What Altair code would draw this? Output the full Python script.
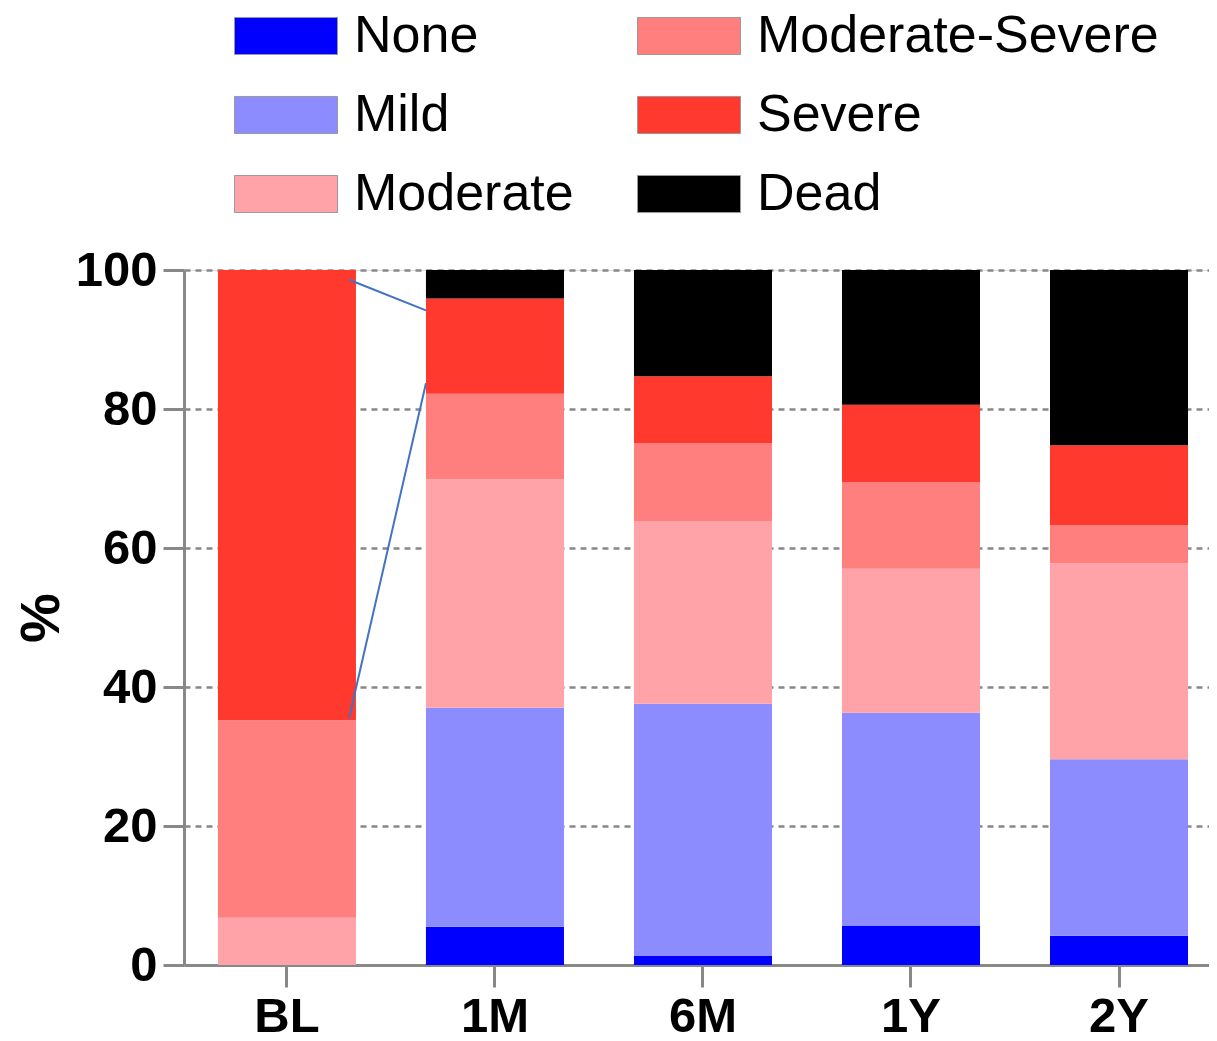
import altair as alt
import pandas as pd

timepoints = ["BL", "1M", "6M", "1Y", "2Y"]
categories = ["None", "Mild", "Moderate", "Moderate-Severe", "Severe", "Dead"]
colors = ["#0000FF", "#8C8CFF", "#FFA3A8", "#FF7F7F", "#FF392D", "#000000"]

none_v = [0.0, 5.5, 1.3, 5.6, 4.2]
mild_v = [0.0, 31.5, 36.3, 30.7, 25.4]
moderate_v = [6.8, 32.9, 26.3, 20.7, 28.2]
modsev_v = [28.4, 12.3, 11.2, 12.5, 5.5]
severe_v = [64.8, 13.7, 9.6, 11.1, 11.5]
dead_v = [0.0, 4.1, 15.3, 19.4, 25.2]

series = [none_v, mild_v, moderate_v, modsev_v, severe_v, dead_v]

rows = []
for ci, (cat, vals) in enumerate(zip(categories, series)):
    for t, v in zip(timepoints, vals):
        rows.append({"time": t, "category": cat, "value": v, "order": ci})
df = pd.DataFrame(rows)

# annotation connector lines (BL severe -> 1M severe)
line_from = ["BL", "BL"]
line_to = ["1M", "1M"]
line_y1 = [98.6, 35.5]
line_y2 = [94.2, 83.7]
lines = pd.DataFrame({"x1": line_from, "x2": line_to, "y1": line_y1, "y2": line_y2})

FONT = "Liberation Sans"

xscale = alt.Scale(domain=timepoints, paddingInner=0.3365, paddingOuter=0.132, align=0.618)
yscale = alt.Scale(domain=[0, 100], nice=False)

rect_path = "M-1,-0.36L1,-0.36L1,0.36L-1,0.36Z"

bars = alt.Chart(df).mark_bar(strokeWidth=0).encode(
    x=alt.X("time:N", scale=xscale, sort=timepoints,
            axis=alt.Axis(title=None, labelAngle=0, labelFont=FONT, labelFontSize=49,
                          labelFontWeight="bold", labelColor="black", labelPadding=5,
                          domainColor="#888888", domainWidth=3, tickColor="#888888",
                          tickWidth=3, tickSize=22, grid=False)),
    y=alt.Y("value:Q", stack="zero", scale=yscale,
            axis=alt.Axis(title="%", values=[0, 20, 40, 60, 80, 100], labelFont=FONT,
                          labelFontSize=49, labelFontWeight="bold", labelColor="black",
                          labelPadding=6, titleFont=FONT, titleFontSize=56,
                          titleFontWeight="bold", titleColor="black", titlePadding=5,
                          domainColor="#888888", domainWidth=3, tickColor="#888888",
                          tickWidth=3, tickSize=21, grid=True, gridColor="#888888",
                          gridWidth=2.5, gridDash=[6, 5])),
    color=alt.Color("category:N",
                    scale=alt.Scale(domain=categories, range=colors),
                    legend=alt.Legend(orient="none", legendX=50, legendY=-286, columns=2,
                                      title=None, symbolType=rect_path, symbolSize=10609,
                                      symbolStrokeColor="#999999", symbolStrokeWidth=1,
                                      labelFont=FONT, labelFontSize=52, labelColor="black",
                                      labelOffset=16, columnPadding=61, rowPadding=1,
                                      labelLimit=600)),
    order=alt.Order("order:Q", sort="ascending"),
)

conn = alt.Chart(lines).mark_rule(color="#4472C4", strokeWidth=2).encode(
    x=alt.X("x1:N", scale=xscale, bandPosition=0.95),
    x2=alt.X2("x2:N", bandPosition=0.0),
    y=alt.Y("y1:Q", scale=yscale),
    y2=alt.Y2("y2:Q"),
)

chart = alt.layer(bars, conn).properties(
    width=1025, height=695,
    autosize=alt.AutoSizeParams(type="none"),
    padding={"left": 176, "top": 262, "right": 0, "bottom": 82},
).configure_view(stroke=None).configure(background="white")

chart.save("out.html", embed_options={"renderer": "svg", "actions": False})
